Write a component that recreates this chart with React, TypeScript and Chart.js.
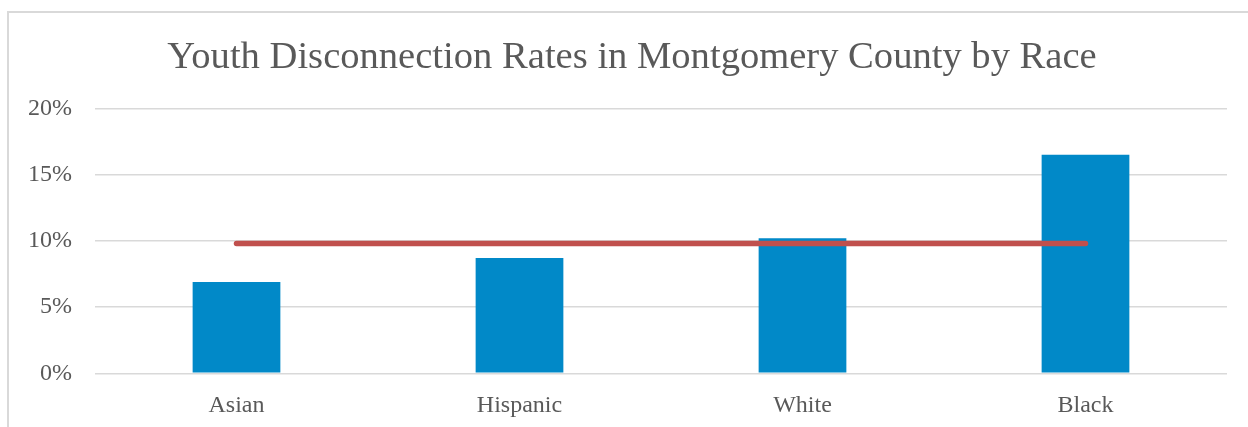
import React, { useEffect, useRef } from "react";
import { Chart, registerables } from "chart.js";

Chart.register(...registerables);

const categories = ["Asian", "Hispanic", "White", "Black"];
const rateValues = [6.9, 8.7, 10.2, 16.5];
const averageValues = [9.8, 9.8, 9.8, 9.8];
const yTicks = [0, 5, 10, 15, 20];
const titleText = "Youth Disconnection Rates in Montgomery County by Race";

const titlePlugin = {
  id: "boxTitle",
  afterDraw(chart: any) {
    const ctx = chart.ctx;
    ctx.save();
    ctx.fillStyle = "#595959";
    ctx.font = "38.6px 'Liberation Serif', serif";
    ctx.textAlign = "center";
    ctx.textBaseline = "alphabetic";
    ctx.fillText(titleText, 632, 68);
    ctx.restore();
  },
};

export default function App() {
  const canvasRef = useRef<HTMLCanvasElement | null>(null);

  useEffect(() => {
    document.body.style.overflow = "hidden";
    const ctx = canvasRef.current;
    if (!ctx) return;
    const chart = new Chart(ctx, {
      type: "bar",
      data: {
        labels: categories,
        datasets: [
          {
            type: "line",
            label: "Average",
            data: averageValues,
            borderColor: "#C0504D",
            backgroundColor: "#C0504D",
            borderWidth: 5.5,
            borderCapStyle: "round",
            pointRadius: 0,
            order: 0,
          } as any,
          {
            type: "bar",
            label: "Rate",
            data: rateValues,
            backgroundColor: "#0189C8",
            borderWidth: 0,
            barPercentage: 0.62,
            categoryPercentage: 0.5,
            order: 1,
          },
        ],
      },
      plugins: [titlePlugin],
      options: {
        animation: false,
        responsive: false,
        maintainAspectRatio: false,
        layout: { padding: { top: 108.3, right: 21, bottom: 0, left: 0 } },
        plugins: {
          legend: { display: false },
          tooltip: { enabled: false },
          title: { display: false },
        },
        scales: {
          x: {
            grid: { display: false, drawTicks: false },
            border: { display: false },
            ticks: {
              color: "#595959",
              font: { family: "'Liberation Serif', serif", size: 24 },
              padding: 18,
            },
            afterFit: (scale: any) => {
              scale.height = 53.7;
            },
          },
          y: {
            min: 0,
            max: 20,
            afterBuildTicks: (scale: any) => {
              scale.ticks = yTicks.map((v) => ({ value: v }));
            },
            grid: { color: "#D9D9D9", lineWidth: 1.6, drawTicks: false },
            border: { display: false },
            ticks: {
              color: "#595959",
              font: { family: "'Liberation Serif', serif", size: 24 },
              padding: 23,
              callback: (v: any) => v + "%",
            },
            afterFit: (scale: any) => {
              scale.width = 95;
            },
          },
        },
      },
    });
    return () => chart.destroy();
  }, []);

  return (
    <div style={{ position: "fixed", left: 0, top: 0, width: 1248, height: 427, overflow: "hidden", background: "#fff" }}>
      <div
        style={{
          position: "absolute",
          left: 7,
          top: 11,
          width: 1300,
          height: 500,
          borderTop: "2px solid #D9D9D9",
          borderLeft: "2px solid #D9D9D9",
        }}
      />
      <canvas
        ref={canvasRef}
        width={1248}
        height={427}
        style={{ position: "absolute", left: 0, top: 0, width: 1248, height: 427 }}
      />
    </div>
  );
}
